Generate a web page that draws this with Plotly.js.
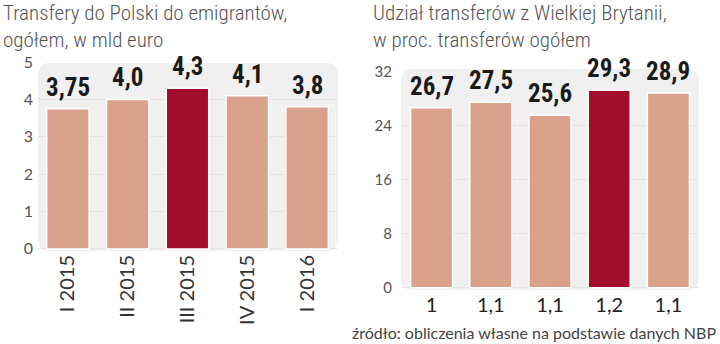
<!DOCTYPE html>
<html><head><meta charset="utf-8">
<script src="https://cdn.plot.ly/plotly-3.0.1.min.js"></script>
<style>html,body{margin:0;padding:0;background:#fff}#chart{width:720px;height:344px}</style>
</head><body><div id="chart"></div>
<script>
// Left chart: transfers to Poland, bn EUR
const quarters = ['I 2015', 'II 2015', 'III 2015', 'IV 2015', 'I 2016'];
const totalValues = [3.75, 4.0, 4.3, 4.1, 3.8];
const totalLabels = ['3,75', '4,0', '4,3', '4,1', '3,8'];
// Right chart: UK share, % of total
const ukShare = [26.7, 27.5, 25.6, 29.3, 28.9];
const ukShareLabels = ['26,7', '27,5', '25,6', '29,3', '28,9'];
const ukAmountLabels = ['1', '1,1', '1,1', '1,2', '1,1'];
const highlightIndex = 2;
const highlightIndexRight = 3;
const leftTicks = [0, 1, 2, 3, 4, 5];
const rightTicks = [0, 8, 16, 24, 32];

const base = '#d9a08b', hi = '#a30d2c';
const cond = '"Roboto Condensed","Liberation Sans Narrow","DejaVu Sans Condensed",sans-serif';
const reg = 'Lato,"Open Sans",sans-serif';

const rightX = ukAmountLabels.map((l, i) => 'c' + i);

const traces = [
  {
    type: 'bar', x: quarters, y: totalValues, xaxis: 'x', yaxis: 'y',
    marker: {color: totalValues.map((v, i) => i === highlightIndex ? hi : base), line: {color: '#ffffff', width: 1.5}},
    width: 0.71, hoverinfo: 'skip'
  },
  {
    type: 'bar', x: rightX, y: ukShare, xaxis: 'x2', yaxis: 'y2',
    marker: {color: ukShare.map((v, i) => i === highlightIndexRight ? hi : base), line: {color: '#ffffff', width: 1.5}},
    width: 0.71, hoverinfo: 'skip'
  }
];

const valueFont = {family: cond, size: 25, color: '#1a1a1a', weight: 700};
const annotations = [];
quarters.forEach((q, i) => annotations.push({xref: 'x', yref: 'y', x: q, y: totalValues[i], text: totalLabels[i],
  showarrow: false, yanchor: 'bottom', yshift: 5, font: valueFont}));
rightX.forEach((c, i) => annotations.push({xref: 'x2', yref: 'y2', x: c, y: ukShare[i], text: ukShareLabels[i],
  showarrow: false, yanchor: 'bottom', yshift: 5, font: valueFont}));
annotations.push(
  {xref: 'paper', yref: 'paper', x: 1/720, y: 1 + 1/344, xanchor: 'left', yanchor: 'top', align: 'left', showarrow: false,
    text: 'Transfery do Polski do emigrantów,<br>ogółem, w mld euro',
    font: {family: cond, size: 21, color: '#555', weight: 300}},
  {xref: 'paper', yref: 'paper', x: 371/720, y: 1 + 1/344, xanchor: 'left', yanchor: 'top', align: 'left', showarrow: false,
    text: 'Udział transferów z Wielkiej Brytanii,<br>w proc. transferów ogółem',
    font: {family: cond, size: 21, color: '#555', weight: 300}},
  {xref: 'paper', yref: 'paper', x: 718/720, y: 0, xanchor: 'right', yanchor: 'bottom', showarrow: false,
    text: 'źródło: obliczenia własne na podstawie danych NBP',
    font: {family: reg, size: 16, color: '#444'}}
);

function rrect(x0, y0, x1, y1, r) {
  const fx = v => v / 720, fy = v => 1 - v / 344;
  const rx = r;
  return 'M' + fx(x0 + rx) + ',' + fy(y0) +
    ' L' + fx(x1 - rx) + ',' + fy(y0) + ' Q' + fx(x1) + ',' + fy(y0) + ' ' + fx(x1) + ',' + fy(y0 + rx) +
    ' L' + fx(x1) + ',' + fy(y1 - rx) + ' Q' + fx(x1) + ',' + fy(y1) + ' ' + fx(x1 - rx) + ',' + fy(y1) +
    ' L' + fx(x0 + rx) + ',' + fy(y1) + ' Q' + fx(x0) + ',' + fy(y1) + ' ' + fx(x0) + ',' + fy(y1 - rx) +
    ' L' + fx(x0) + ',' + fy(y0 + rx) + ' Q' + fx(x0) + ',' + fy(y0) + ' ' + fx(x0 + rx) + ',' + fy(y0) + ' Z';
}

const layout = {
  width: 720, height: 344,
  margin: {l: 0, r: 0, t: 0, b: 0},
  paper_bgcolor: '#ffffff', plot_bgcolor: 'rgba(0,0,0,0)',
  showlegend: false,
  font: {family: reg, color: '#444'},
  xaxis: {domain: [38/720, 337/720], anchor: 'y', tickangle: -90, showgrid: false, zeroline: false,
    tickfont: {family: reg, size: 20, color: '#333'}, ticks: '', ticklabelstandoff: 0, fixedrange: true},
  yaxis: {domain: [(344-250)/344, (344-62)/344], anchor: 'x', range: [-0.03, 5], tickvals: leftTicks,
    showgrid: true, gridcolor: '#e3e3e3', gridwidth: 1, zeroline: false, showline: false,
    tickfont: {family: reg, size: 16, color: '#555'}, ticks: '', ticklabelstandoff: 4},
  xaxis2: {domain: [402/720, 698/720], anchor: 'y2', showgrid: false, zeroline: false,
    tickvals: rightX, ticktext: ukAmountLabels,
    tickfont: {family: reg, size: 20, color: '#222'}, ticks: '', ticklabelstandoff: 2, fixedrange: true},
  yaxis2: {domain: [(344-289)/344, (344-72)/344], anchor: 'x2', range: [-0.2, 32], tickvals: rightTicks,
    showgrid: true, gridcolor: '#e3e3e3', gridwidth: 1, zeroline: false, showline: false,
    tickfont: {family: reg, size: 15, color: '#555'}, ticks: '', ticklabelstandoff: 9},
  shapes: [
    {type: 'path', xref: 'paper', yref: 'paper', path: rrect(38, 63, 338, 251, 12), fillcolor: '#f0f0f0', line: {width: 0}, layer: 'below'},
    {type: 'path', xref: 'paper', yref: 'paper', path: rrect(401, 69, 699, 290, 12), fillcolor: '#f0f0f0', line: {width: 0}, layer: 'below'}
  ],
  annotations: annotations
};

Plotly.newPlot('chart', traces, layout, {staticPlot: true, displayModeBar: false});
</script></body></html>
